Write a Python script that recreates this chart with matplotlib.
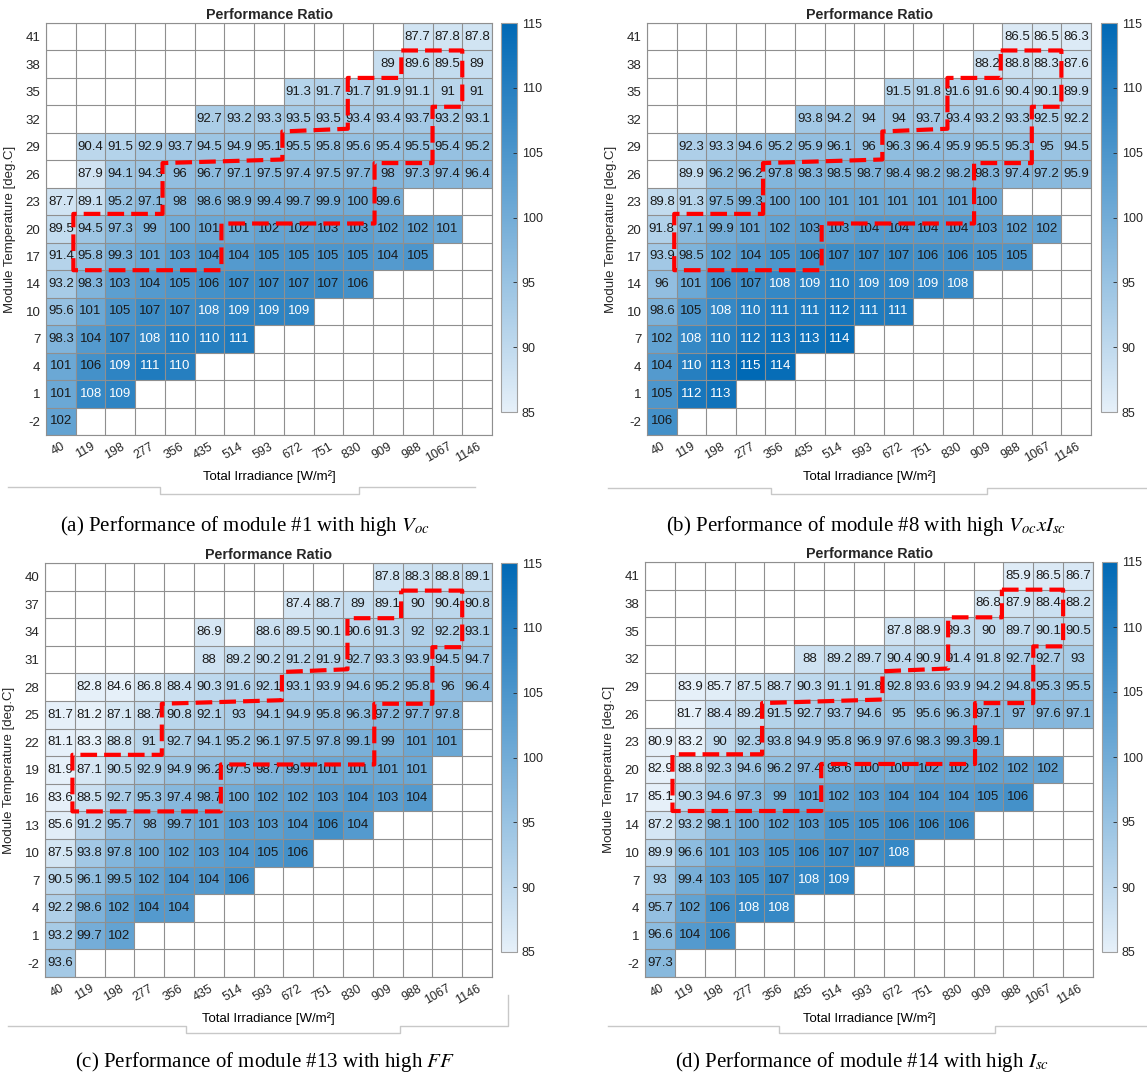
import numpy as np
import matplotlib
matplotlib.use("Agg")
import matplotlib.pyplot as plt
from matplotlib.colors import LinearSegmentedColormap
from matplotlib.lines import Line2D

plt.rcParams["font.family"] = ["Liberation Sans", "DejaVu Sans"]
plt.rcParams["mathtext.fontset"] = "stix"

# ---- data ----
irradiance = [40, 119, 198, 277, 356, 435, 514, 593, 672, 751, 830, 909, 988, 1067, 1146]
temps_abd = [41, 38, 35, 32, 29, 26, 23, 20, 17, 14, 10, 7, 4, 1, -2]
temps_c = [40, 37, 34, 31, 28, 25, 22, 19, 16, 13, 10, 7, 4, 1, -2]

n = None
pr_mod1 = [
    [n]*12 + [87.7, 87.8, 87.8],
    [n]*11 + [89, 89.6, 89.5, 89],
    [n]*8 + [91.3, 91.7, 91.7, 91.9, 91.1, 91, 91],
    [n]*5 + [92.7, 93.2, 93.3, 93.5, 93.5, 93.4, 93.4, 93.7, 93.2, 93.1],
    [n, 90.4, 91.5, 92.9, 93.7, 94.5, 94.9, 95.1, 95.5, 95.8, 95.6, 95.4, 95.5, 95.4, 95.2],
    [n, 87.9, 94.1, 94.3, 96, 96.7, 97.1, 97.5, 97.4, 97.5, 97.7, 98, 97.3, 97.4, 96.4],
    [87.7, 89.1, 95.2, 97.1, 98, 98.6, 98.9, 99.4, 99.7, 99.9, 100, 99.6],
    [89.5, 94.5, 97.3, 99, 100, 101, 101, 102, 102, 103, 103, 102, 102, 101],
    [91.4, 95.8, 99.3, 101, 103, 104, 104, 105, 105, 105, 105, 104, 105],
    [93.2, 98.3, 103, 104, 105, 106, 107, 107, 107, 107, 106],
    [95.6, 101, 105, 107, 107, 108, 109, 109, 109],
    [98.3, 104, 107, 108, 110, 110, 111],
    [101, 106, 109, 111, 110],
    [101, 108, 109],
    [102],
]
pr_mod8 = [
    [n]*12 + [86.5, 86.5, 86.3],
    [n]*11 + [88.2, 88.8, 88.3, 87.6],
    [n]*8 + [91.5, 91.8, 91.6, 91.6, 90.4, 90.1, 89.9],
    [n]*5 + [93.8, 94.2, 94, 94, 93.7, 93.4, 93.2, 93.3, 92.5, 92.2],
    [n, 92.3, 93.3, 94.6, 95.2, 95.9, 96.1, 96, 96.3, 96.4, 95.9, 95.5, 95.3, 95, 94.5],
    [n, 89.9, 96.2, 96.2, 97.8, 98.3, 98.5, 98.7, 98.4, 98.2, 98.2, 98.3, 97.4, 97.2, 95.9],
    [89.8, 91.3, 97.5, 99.3, 100, 100, 101, 101, 101, 101, 101, 100],
    [91.8, 97.1, 99.9, 101, 102, 103, 103, 104, 104, 104, 104, 103, 102, 102],
    [93.9, 98.5, 102, 104, 105, 106, 107, 107, 107, 106, 106, 105, 105],
    [96, 101, 106, 107, 108, 109, 110, 109, 109, 109, 108],
    [98.6, 105, 108, 110, 111, 111, 112, 111, 111],
    [102, 108, 110, 112, 113, 113, 114],
    [104, 110, 113, 115, 114],
    [105, 112, 113],
    [106],
]
pr_mod13 = [
    [n]*11 + [87.8, 88.3, 88.8, 89.1],
    [n]*8 + [87.4, 88.7, 89, 89.1, 90, 90.4, 90.8],
    [n]*5 + [86.9, n, 88.6, 89.5, 90.1, 90.6, 91.3, 92, 92.2, 93.1],
    [n]*5 + [88, 89.2, 90.2, 91.2, 91.9, 92.7, 93.3, 93.9, 94.5, 94.7],
    [n, 82.8, 84.6, 86.8, 88.4, 90.3, 91.6, 92.1, 93.1, 93.9, 94.6, 95.2, 95.8, 96, 96.4],
    [81.7, 81.2, 87.1, 88.7, 90.8, 92.1, 93, 94.1, 94.9, 95.8, 96.3, 97.2, 97.7, 97.8],
    [81.1, 83.3, 88.8, 91, 92.7, 94.1, 95.2, 96.1, 97.5, 97.8, 99.1, 99, 101, 101],
    [81.9, 87.1, 90.5, 92.9, 94.9, 96.2, 97.5, 98.7, 99.9, 101, 101, 101, 101],
    [83.6, 88.5, 92.7, 95.3, 97.4, 98.7, 100, 102, 102, 103, 104, 103, 104],
    [85.6, 91.2, 95.7, 98, 99.7, 101, 103, 103, 104, 106, 104],
    [87.5, 93.8, 97.8, 100, 102, 103, 104, 105, 106],
    [90.5, 96.1, 99.5, 102, 104, 104, 106],
    [92.2, 98.6, 102, 104, 104],
    [93.2, 99.7, 102],
    [93.6],
]
pr_mod14 = [
    [n]*12 + [85.9, 86.5, 86.7],
    [n]*11 + [86.8, 87.9, 88.4, 88.2],
    [n]*8 + [87.8, 88.9, 89.3, 90, 89.7, 90.1, 90.5],
    [n]*5 + [88, 89.2, 89.7, 90.4, 90.9, 91.4, 91.8, 92.7, 92.7, 93],
    [n, 83.9, 85.7, 87.5, 88.7, 90.3, 91.1, 91.8, 92.8, 93.6, 93.9, 94.2, 94.8, 95.3, 95.5],
    [n, 81.7, 88.4, 89.2, 91.5, 92.7, 93.7, 94.6, 95, 95.6, 96.3, 97.1, 97, 97.6, 97.1],
    [80.9, 83.2, 90, 92.3, 93.8, 94.9, 95.8, 96.9, 97.6, 98.3, 99.3, 99.1],
    [82.9, 88.8, 92.3, 94.6, 96.2, 97.4, 98.6, 100, 100, 102, 102, 102, 102, 102],
    [85.1, 90.3, 94.6, 97.3, 99, 101, 102, 103, 104, 104, 104, 105, 106],
    [87.2, 93.2, 98.1, 100, 102, 103, 105, 105, 106, 106, 106],
    [89.9, 96.6, 101, 103, 105, 106, 107, 107, 108],
    [93, 99.4, 103, 105, 107, 108, 109],
    [95.7, 102, 106, 108, 108],
    [96.6, 104, 106],
    [97.3],
]

captions = [
    r"(a) Performance of module #1 with high $V_{oc}$",
    r"(b) Performance of module #8 with high $V_{oc}xI_{sc}$",
    r"(c) Performance of module #13 with high $FF$",
    r"(d) Performance of module #14 with high $I_{sc}$",
]

# red dashed band drawn over each map (cell units: column index, row index)
band_col = [11.45, 13.5, 13.5, 12.5, 12.5, 10.55, 10.55, 5.4, 5.4, 0.42, 0.42,
            3.42, 3.42, 7.45, 7.45, 9.65, 9.65, 11.45, 11.45]
band_row = [0.5, 0.5, 2.55, 2.55, 4.6, 4.6, 6.8, 6.8, 8.5, 8.5, 6.45,
            6.45, 4.6, 4.47, 3.45, 3.35, 1.5, 1.5, 0.5]


def to_grid(rows):
    out = np.full((len(rows), len(irradiance)), np.nan)
    for i, r in enumerate(rows):
        for j, v in enumerate(r):
            if v is not None:
                out[i, j] = v
    return out


W, H = 1147, 1082


def box(l, t, r, b):
    return [l / W, 1 - b / H, (r - l) / W, (b - t) / H]


cmap = LinearSegmentedColormap.from_list("mblue", [(0.90, 0.94, 0.975), (0.0, 0.41, 0.71)])
txt = "#262626"
gridc = "#8f8f8f"

fig = plt.figure(figsize=(W / 100, H / 100), dpi=100)

panels = [
    (pr_mod1, temps_abd, (46, 23, 492, 435), (501, 23, 517, 412), (245, 526)),
    (pr_mod8, temps_abd, (647, 23, 1091, 435), (1101, 23, 1117, 412), (866, 526)),
    (pr_mod13, temps_c, (45, 563, 492, 977), (501, 563, 517, 952), (265, 1062)),
    (pr_mod14, temps_abd, (645, 562, 1093, 977), (1102, 562, 1117, 952), (862, 1062)),
]

for k, (rows, temps, gbox, cbox, cap) in enumerate(panels):
    z = to_grid(rows)
    ax = fig.add_axes(box(*gbox))
    edges_x = np.arange(len(irradiance) + 1) - 0.5
    edges_y = np.arange(len(temps) + 1) - 0.5
    mesh = ax.pcolormesh(edges_x, edges_y, np.ma.masked_invalid(z), cmap=cmap, vmin=85, vmax=115)
    ax.set_xlim(-0.5, len(irradiance) - 0.5)
    ax.set_ylim(len(temps) - 0.5, -0.5)
    for i in range(z.shape[0]):
        for j in range(z.shape[1]):
            v = z[i, j]
            if np.isnan(v):
                continue
            ax.text(j, i, f"{v:g}", ha="center", va="center", fontsize=9.5,
                    color="white" if v > 107.5 else "#1a1a1a")
    ax.set_xticks(range(len(irradiance)))
    ax.set_xticklabels([str(v) for v in irradiance], rotation=30, ha="right",
                       va="top", rotation_mode="anchor", fontsize=9, color=txt)
    ax.set_yticks(range(len(temps)))
    ax.set_yticklabels([str(v) for v in temps], fontsize=9.5, color=txt)
    ax.tick_params(length=0, pad=4)
    ax.set_xticks(edges_x, minor=True)
    ax.set_yticks(edges_y, minor=True)
    ax.tick_params(which="minor", length=0)
    ax.grid(which="minor", color=gridc, lw=0.8)
    ax.grid(which="major", visible=False)
    ax.set_axisbelow(False)
    for s in ax.spines.values():
        s.set_color(gridc)
    ax.plot(band_col, band_row, color="red", lw=3, linestyle=(0, (4.0, 1.7)),
            solid_capstyle="butt", zorder=5)
    ax.set_title("Performance Ratio", fontsize=10.3, fontweight="bold", color=txt, pad=3)
    ax.set_xlabel("Total Irradiance [W/m²]", fontsize=9.5, color="black")
    ax.xaxis.set_label_coords(0.5, -0.085)
    ax.set_ylabel("Module Temperature [deg.C]", fontsize=9.5, color=txt)
    ax.yaxis.set_label_coords(-0.068, 0.5)

    cax = fig.add_axes(box(*cbox))
    cb = fig.colorbar(mesh, cax=cax, ticks=[85, 90, 95, 100, 105, 110, 115])
    cb.outline.set_edgecolor("#a0a0a0")
    cax.tick_params(labelsize=9, colors=txt, direction="in", length=3, width=0.6)

    fig.text(cap[0] / W, 1 - cap[1] / H, captions[k], ha="center", va="center",
             fontsize=15, family="Liberation Serif")

# light grey frame traces under each panel
frames = [
    ([8, 160, 160, 359, 359, 475], [487, 487, 494, 494, 487, 487]),
    ([608, 771, 771, 987, 987, 1147], [488, 488, 494, 494, 488, 488]),
    ([8, 186, 186, 400, 400, 508, 508], [1026, 1026, 1033, 1033, 1026, 1026, 995]),
    ([608, 779, 779, 995, 995, 1147], [1026, 1026, 1033, 1033, 1026, 1026]),
]
for xs, ys in frames:
    fig.add_artist(Line2D(np.array(xs) / W, 1 - np.array(ys) / H,
                          transform=fig.transFigure, color="#c8c8c8", lw=1))

fig.savefig("out.png", dpi=100)
